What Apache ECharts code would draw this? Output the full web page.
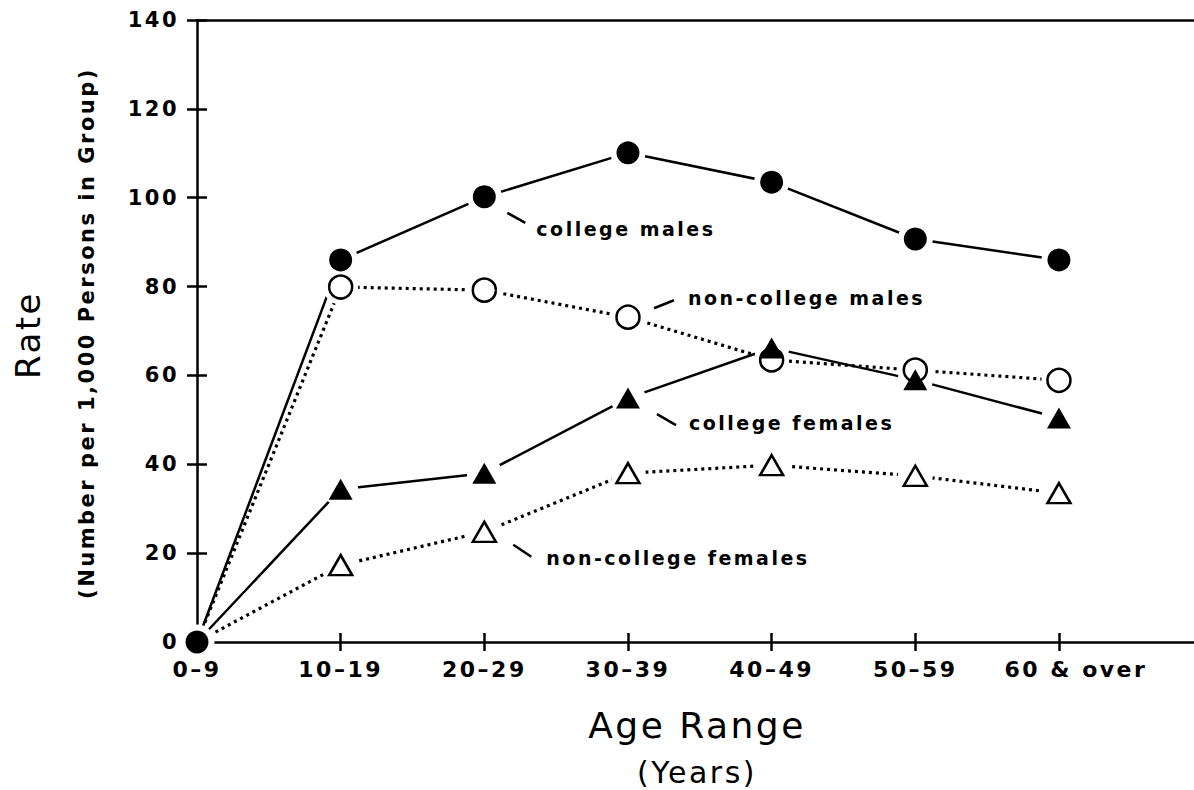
<!DOCTYPE html>
<html><head><meta charset="utf-8">
<script src="https://cdn.jsdelivr.net/npm/echarts@6/dist/echarts.min.js"></script>
<style>
html,body{margin:0;padding:0;background:#fff;}
#c{width:1194px;height:790px;}
#c svg text{letter-spacing:2.5px;}
</style></head><body><div id="c"></div>
<script>
// ---- data ----
const categories = ['0–9', '10–19', '20–29', '30–39', '40–49', '50–59', '60 & over'];
const collegeMales = [0, 86.0, 100.2, 110.1, 103.5, 90.7, 86.0];
const nonCollegeMales = [0, 79.9, 79.2, 73.1, 63.5, 61.2, 58.9];
const collegeFemales = [0, 34.4, 38.0, 54.9, 66.2, 59.0, 50.4];
const nonCollegeFemales = [0, 17.3, 24.8, 38.0, 39.8, 37.4, 33.5];
const yMin = 0, yMax = 140, yStep = 20;
const yTitle = 'Rate';
const ySubTitle = '(Number per 1,000 Persons in Group)';
const xTitle = 'Age Range';
const xSubTitle = '(Years)';

// ---- styles ----
const FONT = '"DejaVu Sans", Verdana, sans-serif';
const BLACK = '#000';
const HALO = '#fff';
const xMax = 6.94;
const catIdx = categories.map((c, i) => i);

const groups = [
  {name: 'non-college males', data: nonCollegeMales, dotted: true, symbol: 'circle', size: 23, filled: false},
  {name: 'non-college females', data: nonCollegeFemales, dotted: true, symbol: 'triangle', size: [23, 20], filled: false},
  {name: 'college males', data: collegeMales, dotted: false, symbol: 'circle', size: 23, filled: true},
  {name: 'college females', data: collegeFemales, dotted: false, symbol: 'triangle', size: [24, 21], filled: true}
];

const series = [];
groups.forEach(g => {
  const pts = g.data.map((v, i) => [i, v]);
  series.push({
    type: 'line', name: g.name, data: pts, symbol: 'none', z: 2,
    lineStyle: g.dotted ? {color: BLACK, width: 3.2, type: [3, 4], cap: 'butt'} : {color: BLACK, width: 2.5},
    silent: true
  });
  const markPts = g.filled && g.symbol === 'circle' ? pts : pts.slice(1);
  series.push({
    type: 'scatter', name: g.name + ' halo', data: markPts, symbol: 'circle', symbolSize: 35, z: 3,
    itemStyle: {color: HALO, opacity: 1}, silent: true
  });
  series.push({
    type: 'scatter', name: g.name + ' marker', data: markPts, symbol: g.symbol, symbolSize: g.size, z: 4,
    itemStyle: g.filled ? {color: BLACK, opacity: 1} : {color: '#fff', borderColor: BLACK, borderWidth: 2.5, opacity: 1},
    silent: true
  });
});

const axisLine = {show: true, onZero: false, lineStyle: {color: BLACK, width: 2.5}};
const tickStyle = {color: BLACK, width: 2.5};
const innerTicks = [1, 2, 3, 4, 5, 6];

const option = {
  animation: false,
  backgroundColor: '#fff',
  grid: {left: 197, right: 0, top: 20, bottom: 148},
  xAxis: [
    {type: 'value', min: 0, max: xMax, position: 'bottom', axisLine: axisLine,
      axisTick: {show: true, length: 9, customValues: innerTicks, lineStyle: tickStyle},
      axisLabel: {customValues: catIdx, margin: 16, color: BLACK, fontSize: 22, fontWeight: 'bold', fontFamily: FONT,
        formatter: v => {
          const c = categories[Math.round(v)] || '';
          return Math.round(v) === categories.length - 1 ? '{o|' + c + '}' : c;
        },
        rich: {o: {fontSize: 22, fontWeight: 'bold', fontFamily: FONT, color: BLACK, padding: [0, 0, 0, 34]}}},
      splitLine: {show: false}},
    {type: 'value', min: 0, max: xMax, position: 'bottom', axisLine: {show: false},
      axisTick: {show: true, inside: true, length: 9, customValues: innerTicks, lineStyle: tickStyle},
      axisLabel: {show: false}, splitLine: {show: false}},
    {type: 'value', min: 0, max: xMax, position: 'top', axisLine: axisLine,
      axisTick: {show: false}, axisLabel: {show: false}, splitLine: {show: false}}
  ],
  yAxis: [
    {type: 'value', min: yMin, max: yMax, interval: yStep, position: 'left', axisLine: axisLine,
      axisTick: {show: true, length: 10, lineStyle: tickStyle},
      axisLabel: {margin: 18, color: BLACK, fontSize: 21, fontWeight: 'bold', fontFamily: FONT},
      splitLine: {show: false}},
    {type: 'value', min: yMin, max: yMax, interval: yStep, position: 'left', axisLine: {show: false},
      axisTick: {show: true, inside: true, length: 10, lineStyle: tickStyle},
      axisLabel: {show: false}, splitLine: {show: false}}
  ],
  series: series
};

const chart = echarts.init(document.getElementById('c'), null, {renderer: 'svg', width: 1194, height: 790});
chart.setOption(option);

function px(x, y) { return chart.convertToPixel({xAxisIndex: 0, yAxisIndex: 0}, [x, y]); }

// annotation: series data, point index, label text, leader offsets, text offset
const annotations = [
  {data: collegeMales, i: 2, text: 'college males', l: [23, 16, 41, 26], t: [52, 32]},
  {data: nonCollegeMales, i: 3, text: 'non-college males', l: [26, -9, 46, -17], t: [60, -19]},
  {data: collegeFemales, i: 3, text: 'college females', l: [29, 16, 48, 27], t: [61, 25]},
  {data: nonCollegeFemales, i: 2, text: 'non-college females', l: [29, 13, 47, 25], t: [62, 26]}
];

const graphics = [];
annotations.forEach(a => {
  const p = px(a.i, a.data[a.i]);
  graphics.push({type: 'line', silent: true, z: 10,
    shape: {x1: p[0] + a.l[0], y1: p[1] + a.l[1], x2: p[0] + a.l[2], y2: p[1] + a.l[3]},
    style: {stroke: BLACK, lineWidth: 2.5}});
  graphics.push({type: 'text', silent: true, z: 10, x: p[0] + a.t[0], y: p[1] + a.t[1],
    style: {text: a.text, fill: BLACK, font: 'bold 19px ' + FONT, align: 'left', verticalAlign: 'middle',
      textAlign: 'left', textVerticalAlign: 'middle'}});
});

// axis titles
graphics.push({type: 'text', silent: true, x: 28, y: 335, rotation: Math.PI / 2,
  style: {text: yTitle, fill: BLACK, font: '34px ' + FONT, align: 'center', verticalAlign: 'middle',
    textAlign: 'center', textVerticalAlign: 'middle'}});
graphics.push({type: 'text', silent: true, x: 87, y: 333, rotation: Math.PI / 2,
  style: {text: ySubTitle, fill: BLACK, font: 'bold 21px ' + FONT, align: 'center', verticalAlign: 'middle',
    textAlign: 'center', textVerticalAlign: 'middle'}});
graphics.push({type: 'text', silent: true, x: 697, y: 725,
  style: {text: xTitle, fill: BLACK, font: '36px ' + FONT, align: 'center', verticalAlign: 'middle',
    textAlign: 'center', textVerticalAlign: 'middle'}});
graphics.push({type: 'text', silent: true, x: 697, y: 772,
  style: {text: xSubTitle, fill: BLACK, font: '30px ' + FONT, align: 'center', verticalAlign: 'middle',
    textAlign: 'center', textVerticalAlign: 'middle'}});

chart.setOption({graphic: graphics});
</script></body></html>
